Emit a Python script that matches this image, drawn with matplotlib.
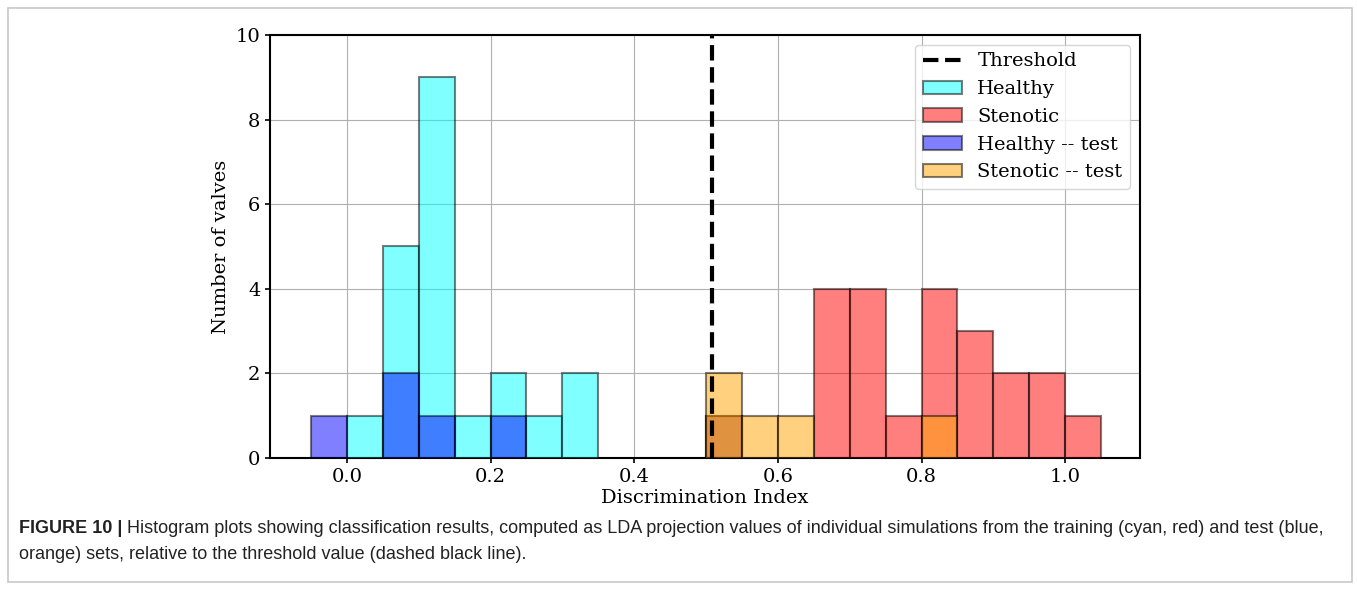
import matplotlib.pyplot as plt
from matplotlib.patches import Rectangle

# 直方图数据（组宽 0.05）
bin_w = 0.05
healthy_left = [0.00, 0.05, 0.10, 0.15, 0.20, 0.25, 0.30, 0.50]
healthy_cnt = [1, 5, 9, 1, 2, 1, 2, 1]
stenotic_left = [0.50, 0.65, 0.70, 0.75, 0.80, 0.85, 0.90, 0.95, 1.00]
stenotic_cnt = [1, 4, 4, 1, 4, 3, 2, 2, 1]
healthy_test_left = [-0.05, 0.05, 0.10, 0.20]
healthy_test_cnt = [1, 2, 1, 1]
stenotic_test_left = [0.50, 0.55, 0.60, 0.80]
stenotic_test_cnt = [2, 1, 1, 1]
threshold = 0.508

fig = plt.figure(figsize=(13.57, 5.89), dpi=100)
ax = fig.add_axes([0.199, 0.2224, 0.641, 0.7182])

serif = 'DejaVu Serif'

ax.axvline(threshold, color='black', ls='--', lw=3, label='Threshold', zorder=5)
ax.bar(healthy_left, healthy_cnt, width=bin_w, align='edge', color='cyan', alpha=0.5,
       edgecolor='black', linewidth=1.5, label='Healthy', zorder=3)
ax.bar(stenotic_left, stenotic_cnt, width=bin_w, align='edge', color='red', alpha=0.5,
       edgecolor='black', linewidth=1.5, label='Stenotic', zorder=3)
ax.bar(healthy_test_left, healthy_test_cnt, width=bin_w, align='edge', color='blue', alpha=0.5,
       edgecolor='black', linewidth=1.5, label='Healthy -- test', zorder=3)
ax.bar(stenotic_test_left, stenotic_test_cnt, width=bin_w, align='edge', color='orange', alpha=0.5,
       edgecolor='black', linewidth=1.5, label='Stenotic -- test', zorder=3)

ax.set_xlim(-0.107, 1.104)
ax.set_ylim(0, 10)
ax.set_xticks([0.0, 0.2, 0.4, 0.6, 0.8, 1.0])
ax.set_yticks([0, 2, 4, 6, 8, 10])
ax.grid(True, color='#b0b0b0', lw=0.8, zorder=0)
ax.set_axisbelow(True)
for s in ax.spines.values():
    s.set_linewidth(1.5)
ax.tick_params(labelsize=14, width=1.2)
for lab in ax.get_xticklabels() + ax.get_yticklabels():
    lab.set_family(serif)
ax.set_xlabel('Discrimination Index', fontsize=14, family=serif, labelpad=2)
ax.set_ylabel('Number of valves', fontsize=14, family=serif)

leg = ax.legend(loc='upper right', prop={'family': serif, 'size': 14}, handlelength=2.0)

# 外框
fig.patches.append(Rectangle((0.006, 0.012), 0.990, 0.975, transform=fig.transFigure,
                             fill=False, edgecolor='#c8c8c8', lw=1.2))

# 图注
cap_font = 'Liberation Sans'
cap_size = 13
t1 = fig.text(19 / 1357, 1 - 533 / 589, 'FIGURE 10 |', fontsize=cap_size, weight='bold',
              family=cap_font, color='#222222')
fig.canvas.draw()
bb = t1.get_window_extent()
x2 = (bb.x1 + 5) / 1357
fig.text(x2, 1 - 533 / 589,
         'Histogram plots showing classification results, computed as LDA projection values of '
         'individual simulations from the training (cyan, red) and test (blue,',
         fontsize=cap_size, family=cap_font, color='#222222')
fig.text(19 / 1357, 1 - 559 / 589,
         'orange) sets, relative to the threshold value (dashed black line).',
         fontsize=cap_size, family=cap_font, color='#222222')

fig.savefig('out.png', dpi=100)
